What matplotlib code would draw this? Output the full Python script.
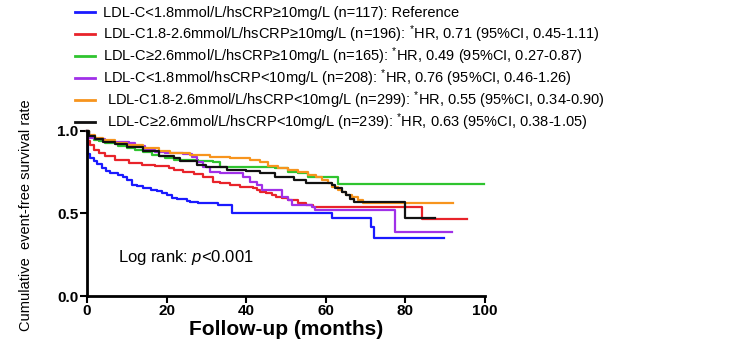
import matplotlib
matplotlib.use('Agg')
import matplotlib.pyplot as plt
from matplotlib.lines import Line2D

plt.rcParams['font.family'] = ['Liberation Sans', 'DejaVu Sans']
plt.rcParams['mathtext.fontset'] = 'custom'
plt.rcParams['mathtext.rm'] = 'Liberation Sans'
plt.rcParams['mathtext.it'] = 'Liberation Sans:italic'

# Kaplan-Meier step curves (months, survival)
tBlue = [0, 0.3, 0.8, 1.7, 2.5, 3.7, 4.8, 5.8, 7.8, 9, 10, 11.2, 12.5, 14, 16, 17.5, 18.8, 20,
         21.3, 22.5, 23.4, 25, 25.9, 28, 30, 33, 36.4, 61.5, 71.3, 72, 89.7]
sBlue = [1.0, 0.86, 0.836, 0.82, 0.80, 0.776, 0.76, 0.745, 0.735, 0.72, 0.705, 0.675, 0.665, 0.655,
         0.645, 0.635, 0.624, 0.61, 0.594, 0.59, 0.586, 0.578, 0.572, 0.566, 0.562, 0.552, 0.505,
         0.47, 0.42, 0.35, 0.35]

tRed = [0, 0.3, 0.8, 1.7, 2.9, 4.6, 7.1, 10.5, 13.8, 17.2, 20.5, 21.8, 24.2, 27, 29.2, 31.7, 33.5,
        35.9, 38.4, 41.8, 42.6, 43.5, 45, 46.5, 47.5, 49, 50.5, 53, 55, 56.7, 84.1, 95.5]
sRed = [1.0, 0.94, 0.917, 0.887, 0.867, 0.847, 0.826, 0.806, 0.796, 0.786, 0.776, 0.766, 0.754,
        0.74, 0.723, 0.693, 0.683, 0.673, 0.663, 0.652, 0.643, 0.633, 0.622, 0.612, 0.602, 0.592,
        0.582, 0.562, 0.552, 0.542, 0.467, 0.467]

tGreen = [0, 0.5, 1.7, 3, 4.6, 7.9, 10, 12.1, 14, 16.3, 18, 19.6, 21.8, 28, 31.7, 33.4, 47.2, 50.6,
          53, 55.6, 63.1, 99.7]
sGreen = [1.0, 0.968, 0.947, 0.937, 0.927, 0.907, 0.897, 0.887, 0.872, 0.857, 0.846, 0.836, 0.826,
          0.82, 0.814, 0.784, 0.774, 0.753, 0.743, 0.723, 0.68, 0.68]

tPurple = [0, 0.5, 2, 4.6, 7.1, 10.5, 12.1, 14.6, 17.2, 19.6, 24.2, 26.5, 27.6, 29.2, 30.9, 33.4,
           39.3, 41, 42.6, 43.9, 48.9, 50.6, 51.4, 56.5, 57.3, 77.4, 91.6]
sPurple = [1.0, 0.958, 0.95, 0.94, 0.933, 0.927, 0.907, 0.887, 0.873, 0.867, 0.86, 0.84, 0.814,
           0.784, 0.754, 0.743, 0.723, 0.693, 0.673, 0.642, 0.602, 0.582, 0.552, 0.542, 0.52,
           0.385, 0.385]

tOrange = [0, 0.5, 2, 4, 7, 10, 14, 18, 20.9, 25.9, 30.9, 36, 41, 43.5, 45.6, 48, 50.6, 53, 55.6,
           57.5, 59, 60.5, 61.5, 63, 64, 65, 66.5, 68, 69.3, 91.9]
sOrange = [1.0, 0.978, 0.96, 0.945, 0.93, 0.915, 0.895, 0.88, 0.865, 0.855, 0.844, 0.834, 0.824,
           0.814, 0.788, 0.778, 0.764, 0.75, 0.733, 0.72, 0.703, 0.685, 0.663, 0.645, 0.632, 0.615,
           0.6, 0.58, 0.565, 0.565]

tBlack = [0, 0.5, 2, 4, 7, 10, 14, 18, 21.8, 23.4, 27.6, 30, 35.1, 40, 43.5, 47.2, 52, 55, 61.5,
          62.3, 64, 65, 66, 67, 80, 87.4]
sBlack = [1.0, 0.97, 0.95, 0.935, 0.92, 0.905, 0.88, 0.847, 0.836, 0.82, 0.794, 0.78, 0.764, 0.755,
          0.743, 0.72, 0.70, 0.685, 0.675, 0.653, 0.632, 0.61, 0.59, 0.57, 0.47, 0.47]

legendas = [
    'LDL-C<1.8mmol/L/hsCRP≥10mg/L (n=117): Reference',
    'LDL-C1.8-2.6mmol/L/hsCRP≥10mg/L (n=196): $^{*}$HR, 0.71 (95%CI, 0.45-1.11)',
    'LDL-C≥2.6mmol/L/hsCRP≥10mg/L (n=165): $^{*}$HR, 0.49 (95%CI, 0.27-0.87)',
    'LDL-C<1.8mmol/hsCRP<10mg/L (n=208): $^{*}$HR, 0.76 (95%CI, 0.46-1.26)',
    ' LDL-C1.8-2.6mmol/L/hsCRP<10mg/L (n=299): $^{*}$HR, 0.55 (95%CI, 0.34-0.90)',
    ' LDL-C≥2.6mmol/L/hsCRP<10mg/L (n=239): $^{*}$HR, 0.63 (95%CI, 0.38-1.05)',
]
cores = ['#1a1aff', '#e8232a', '#2fc42f', '#a030e8', '#f7941d', '#111111']
curvas = [(tBlue, sBlue), (tRed, sRed), (tGreen, sGreen),
          (tPurple, sPurple), (tOrange, sOrange), (tBlack, sBlack)]

xTicks = [0, 20, 40, 60, 80, 100]
yTicks = [0.0, 0.5, 1.0]
yTickLabels = ['0.0', '0.5', '1.0']

W, H = 754, 342
fig = plt.figure(figsize=(W / 100, H / 100), dpi=100)
ax = fig.add_axes([0.1154, 0.1345, 0.5278, 0.4825])

for (t, s), c in zip(curvas, cores):
    ax.step(t, s, where='post', color=c, linewidth=1.6, clip_on=False)

ax.set_xlim(0, 100)
ax.set_ylim(0, 1.0)
ax.set_xticks(xTicks)
ax.set_yticks(yTicks)
ax.set_yticklabels(yTickLabels)
for side in ['top', 'right']:
    ax.spines[side].set_visible(False)
for side in ['left', 'bottom']:
    ax.spines[side].set_linewidth(2)
ax.tick_params(width=1.5, length=5, labelsize=11, pad=1)
for lab in ax.get_xticklabels() + ax.get_yticklabels():
    lab.set_fontweight('bold')

ax.set_xlabel('Follow-up (months)', fontsize=15, fontweight='bold', labelpad=1)
ax.set_ylabel('Cumulative  event-free survival rate', fontsize=10.5)
ax.yaxis.set_label_coords(-0.135, 0.49)

ax.text(7.8, 0.236, 'Log rank: $p$<0.001', fontsize=12, va='center', ha='left')

# legenda feita à mão, linhas com espaçamento fixo
for i, (txt, c) in enumerate(zip(legendas, cores)):
    yc = 12 + 22 * i
    fig.add_artist(Line2D([75 / W, 95 / W], [1 - yc / H, 1 - yc / H], color=c, linewidth=2))
    fig.text(103 / W, 1 - (yc + 5) / H, txt, fontsize=10.5, va='baseline', ha='left')

plt.savefig('out.png', dpi=100)
